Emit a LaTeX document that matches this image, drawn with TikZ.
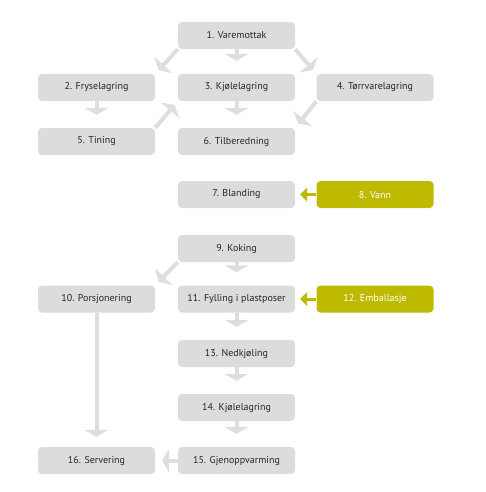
\documentclass[tikz,border=0pt]{standalone}
\usepackage{fontspec}
\setmainfont{PT Sans}
\usetikzlibrary{arrows.meta,backgrounds}
\definecolor{boxgray}{HTML}{DCDCDC}
\definecolor{arrowgray}{HTML}{DEDEDE}
\definecolor{olive}{HTML}{BEBA00}
\begin{document}
\begin{tikzpicture}[x=1pt, y=-1pt,
  every node/.style={align=center, font=\fontsize{10}{12}\selectfont, text=black!85},
  stepbox/.style={fill=boxgray, rounded corners=4pt, minimum width=117pt, minimum height=27pt, inner sep=0pt},
  inbox/.style={stepbox, fill=olive, text=white},
  flow/.style={draw=arrowgray, line width=4pt, -{Triangle[width=24pt,length=7pt]}},
  feed/.style={draw=olive, line width=3pt, -{Triangle[width=14pt,length=7pt]}}]
  \useasboundingbox (0,0) rectangle (485,492);

  % main column
  \node[stepbox] (v1) at (236.5, 35.5) {1. Varemottak};
  \node[stepbox] (v3) at (236.5, 87.5) {3. Kjølelagring};
  \node[stepbox] (v6) at (236.5, 141.5) {6. Tilberedning};
  \node[stepbox] (v7) at (236.5, 194.5) {7. Blanding};
  \node[stepbox] (v9) at (236.5, 248.5) {9. Koking};
  \node[stepbox] (v11) at (236.5, 299) {11. Fylling i plastposer};
  \node[stepbox] (v13) at (236.5, 353.5) {13. Nedkjøling};
  \node[stepbox] (v14) at (236.5, 407.5) {14. Kjølelagring};
  \node[stepbox] (v15) at (236.5, 460.5) {15. Gjenoppvarming};

  % left column
  \node[stepbox] (v2) at (96.5, 87.5) {2. Fryselagring};
  \node[stepbox] (v5) at (96.5, 141.5) {5. Tining};
  \node[stepbox] (v10) at (96.5, 299) {10. Porsjonering};
  \node[stepbox] (v16) at (96.5, 460.5) {16. Servering};

  % right column
  \node[stepbox] (v4) at (375, 87.5) {4. Tørrvarelagring};
  \node[inbox] (v8) at (375, 194.5) {8. Vann};
  \node[inbox] (v12) at (375, 299) {12. Emballasje};

  \begin{scope}[on background layer]
    \draw[flow, shorten >=13pt] (v1) -- (v3);
    \draw[flow, shorten >=13pt] (v3) -- (v6);
    \draw[flow, shorten >=13pt] (v2) -- (v5);
    \draw[flow, shorten >=13pt] (v9) -- (v11);
    \draw[flow, shorten >=13pt] (v11) -- (v13);
    \draw[flow, shorten >=13pt] (v13) -- (v14);
    \draw[flow, shorten >=13pt] (v14) -- (v15);
    \draw[flow, shorten >=10pt] (v10) -- (v16);
    \draw[flow, shorten >=7pt] (v15) -- (v16);
    \draw[flow, shorten >=5pt] (v1.south west) -- (v2.north east);
    \draw[flow, shorten >=5pt] (v1.south east) -- (v3.north east -| v4.north west);
    \draw[flow, shorten >=5pt] (v4.south west) -- (v6.north east);
    \draw[flow, shorten >=5pt] (v5.north east) -- (v3.south west);
    \draw[flow, shorten >=5pt] (v9.south west) -- (v10.north east);
    \draw[feed, shorten >=5pt] (v8) -- (v7);
    \draw[feed, shorten >=5pt] (v12) -- (v11);
  \end{scope}
\end{tikzpicture}
\end{document}
